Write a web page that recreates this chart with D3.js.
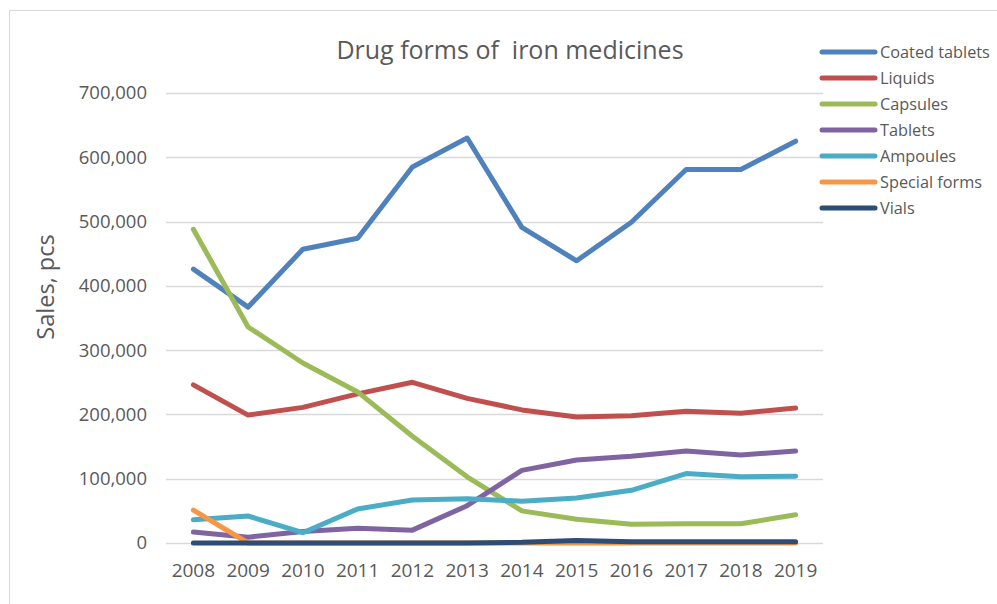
<!DOCTYPE html>
<html>
<head>
<meta charset="utf-8">
<script src="https://cdn.jsdelivr.net/npm/d3@7"></script>
<style>
  body { margin: 0; background: #fff; }
  text { font-family: "Open Sans", "Noto Sans", sans-serif; fill: #595959; }
</style>
</head>
<body>
<svg id="chart"></svg>
<script>
// data
var years = ["2008","2009","2010","2011","2012","2013","2014","2015","2016","2017","2018","2019"];
var coatedTablets = [426000, 367000, 457000, 474000, 585000, 630000, 491000, 439000, 499000, 581000, 581000, 625000];
var liquids       = [246000, 199000, 211000, 232000, 250000, 225000, 207000, 196000, 198000, 205000, 202000, 210000];
var capsules      = [488000, 336000, 280000, 235000, 166000, 103000, 50000, 37000, 29000, 30000, 30000, 44000];
var tablets       = [17000, 9000, 18000, 23000, 20000, 58000, 113000, 129000, 135000, 143000, 137000, 143000];
var ampoules      = [36000, 42000, 16000, 53000, 67000, 69000, 65000, 70000, 82000, 108000, 103000, 104000];
var specialForms  = [51000, 0, 0, 0, 0, 0, 0, 0, 0, 0, 0, 0];
var vials         = [0, 0, 0, 0, 0, 0, 1000, 4000, 2000, 2000, 2000, 2000];
var yTicks = [0, 100000, 200000, 300000, 400000, 500000, 600000, 700000];

var series = [
  {name: "Coated tablets", values: coatedTablets, color: "#4f81bd"},
  {name: "Liquids",        values: liquids,       color: "#c0504d"},
  {name: "Capsules",       values: capsules,      color: "#9bbb59"},
  {name: "Tablets",        values: tablets,       color: "#8064a2"},
  {name: "Ampoules",       values: ampoules,      color: "#4bacc6"},
  {name: "Special forms",  values: specialForms,  color: "#f79646"},
  {name: "Vials",          values: vials,         color: "#2c4d75"}
];

var W = 997, H = 604;
var svg = d3.select("#chart").attr("width", W).attr("height", H);

// chart border (only top and left are inside the picture)
svg.append("path")
  .attr("d", "M9.5," + H + "V10.5H" + W)
  .attr("fill", "none")
  .attr("stroke", "#d9d9d9")
  .attr("stroke-width", 1);

// scales
var x = d3.scaleBand().domain(years).range([166, 823]);
var y = d3.scaleLinear().domain([0, 700000]).range([543, 93]);

// gridlines
svg.append("g").selectAll("line")
  .data(yTicks)
  .enter().append("line")
  .attr("x1", 166).attr("x2", 823)
  .attr("y1", function(d) { return Math.round(y(d)) + 0.5; })
  .attr("y2", function(d) { return Math.round(y(d)) + 0.5; })
  .attr("stroke", "#d9d9d9")
  .attr("stroke-width", 1.3);

// y axis labels
var fmt = d3.format(",");
var yAxis = svg.append("g")
  .attr("transform", "translate(166,0)")
  .call(d3.axisLeft(y).tickValues(yTicks).tickFormat(fmt).tickSize(0).tickPadding(19));
yAxis.select(".domain").remove();
yAxis.selectAll("text").style("font-size", "18.5px").attr("fill", "#595959");

// x axis labels
var xAxis = svg.append("g")
  .attr("transform", "translate(0,543)")
  .call(d3.axisBottom(x).tickSize(0).tickPadding(21));
xAxis.select(".domain").remove();
xAxis.selectAll("text").style("font-size", "19px").attr("fill", "#595959");

// lines, in series order so later ones sit on top
var line = d3.line()
  .x(function(d, i) { return x(years[i]) + x.bandwidth() / 2; })
  .y(function(d) { return y(d); });

series.forEach(function(s) {
  svg.append("path")
    .datum(s.values)
    .attr("d", line)
    .attr("fill", "none")
    .attr("stroke", s.color)
    .attr("stroke-width", 5)
    .attr("stroke-linejoin", "round")
    .attr("stroke-linecap", "round");
});

// title
svg.append("text")
  .attr("x", 510).attr("y", 59)
  .attr("text-anchor", "middle")
  .attr("xml:space", "preserve")
  .style("white-space", "pre")
  .style("font-size", "25px")
  .text("Drug forms of  iron medicines");

// y axis title
svg.append("text")
  .attr("transform", "translate(54,287) rotate(-90)")
  .attr("text-anchor", "middle")
  .style("font-size", "23.5px")
  .text("Sales, pcs");

// legend
var legend = svg.append("g").selectAll("g")
  .data(series)
  .enter().append("g")
  .attr("transform", function(d, i) { return "translate(822," + (52 + i * 26) + ")"; });
legend.append("line")
  .attr("x1", 0).attr("x2", 53)
  .attr("stroke", function(d) { return d.color; })
  .attr("stroke-width", 5)
  .attr("stroke-linecap", "round");
legend.append("text")
  .attr("x", 58).attr("dy", "0.35em")
  .style("font-size", "16.3px")
  .text(function(d) { return d.name; });
</script>
</body>
</html>
